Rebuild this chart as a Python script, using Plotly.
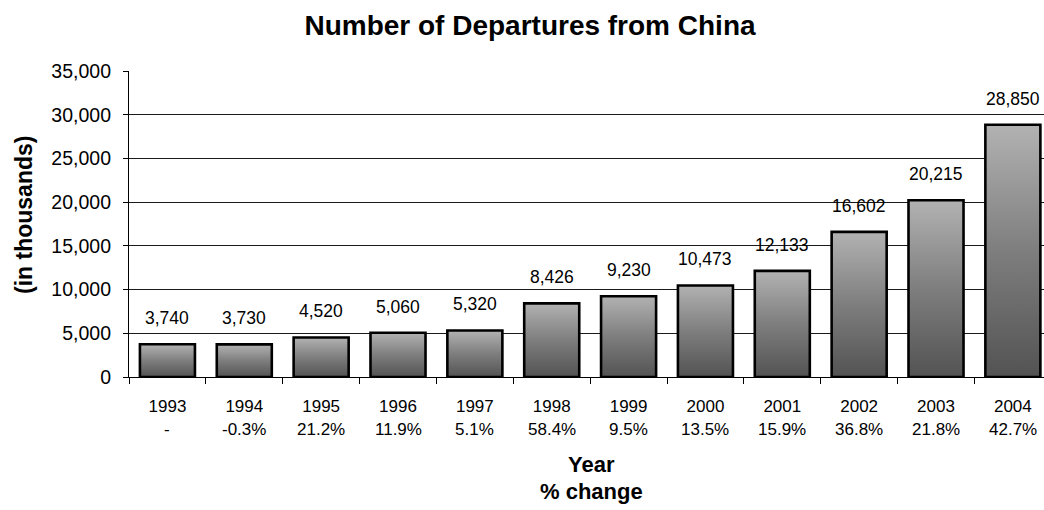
import plotly.graph_objects as go

# Outbound departures from China, thousands
years = ["1993", "1994", "1995", "1996", "1997", "1998",
         "1999", "2000", "2001", "2002", "2003", "2004"]
departures = [3740, 3730, 4520, 5060, 5320, 8426,
              9230, 10473, 12133, 16602, 20215, 28850]
pct_change = ["-", "-0.3%", "21.2%", "11.9%", "5.1%", "58.4%",
              "9.5%", "13.5%", "15.9%", "36.8%", "21.8%", "42.7%"]

FONT = "Liberation Sans, Arial, sans-serif"
BAR_HALF = 0.358

# plot-area geometry in pixels (used to place titles outside the axes)
L, R, T, B = 129, 1044, 71, 377


def px_x(p):
    return (p - L) / (R - L)


def px_y(p):
    return (B - p) / (B - T)


fig = go.Figure()

# Each column: a closed outline filled with a vertical grey gradient
for i, v in enumerate(departures):
    x0, x1 = i - BAR_HALF, i + BAR_HALF
    fig.add_trace(go.Scatter(
        x=[x0, x0, x1, x1, x0],
        y=[0, v, v, 0, 0],
        mode="lines",
        fill="toself",
        fillgradient=dict(type="vertical",
                          colorscale=[[0, "#535353"], [0.5, "#7e7e7e"], [1, "#b2b2b2"]]),
        line=dict(color="#000000", width=2.6),
        hoverinfo="skip",
        showlegend=False,
    ))

# Value labels above columns
for i, v in enumerate(departures):
    fig.add_annotation(x=i, y=v, xref="x", yref="y", text=f"{v:,}",
                       showarrow=False, yanchor="bottom", yshift=14,
                       font=dict(family=FONT, size=17.5, color="#000000"))

# Second row of category labels: percentage change
for i, p in enumerate(pct_change):
    fig.add_annotation(x=i, y=px_y(429), xref="x", yref="paper", text=p,
                       showarrow=False, yanchor="middle",
                       font=dict(family=FONT, size=17, color="#000000"))

# Axis titles
fig.add_annotation(x=px_x(591), y=px_y(465), xref="paper", yref="paper",
                   text="<b>Year</b>", showarrow=False, yanchor="middle",
                   font=dict(family=FONT, size=22, color="#000000"))
fig.add_annotation(x=px_x(591), y=px_y(491), xref="paper", yref="paper",
                   text="<b>% change</b>", showarrow=False, yanchor="middle",
                   font=dict(family=FONT, size=22, color="#000000"))
fig.add_annotation(x=px_x(24), y=px_y(215), xref="paper", yref="paper",
                   text="<b>(in thousands)</b>", showarrow=False, textangle=-90,
                   xanchor="center", yanchor="middle",
                   font=dict(family=FONT, size=23, color="#000000"))

fig.update_layout(
    width=1044, height=510,
    margin=dict(l=L, r=1044 - R, t=T, b=510 - B),
    paper_bgcolor="#ffffff", plot_bgcolor="#ffffff",
    font=dict(family=FONT, color="#000000"),
    title=dict(text="<b>Number of Departures from China</b>",
               x=530 / 1044, xanchor="center", xref="container",
               y=1 - 25 / 510, yanchor="middle", yref="container",
               font=dict(family=FONT, size=28, color="#000000")),
    showlegend=False,
)

fig.update_xaxes(
    range=[-0.5, 11.405],
    tickmode="array", tickvals=list(range(len(years))), ticktext=years,
    ticks="", tickfont=dict(family=FONT, size=17, color="#000000"),
    ticklabelstandoff=13,
    minor=dict(tick0=-0.5, dtick=1, ticks="outside", ticklen=6,
               tickcolor="#000000", tickwidth=1, showgrid=False),
    showline=True, linecolor="#000000", linewidth=1.2,
    showgrid=False, zeroline=False, fixedrange=True,
)

fig.update_yaxes(
    range=[0, 35000], tick0=0, dtick=5000, tickformat=",",
    ticks="outside", ticklen=5, tickcolor="#000000", tickwidth=1,
    ticklabelstandoff=8,
    tickfont=dict(family=FONT, size=19.5, color="#000000"),
    showline=True, linecolor="#000000", linewidth=1.2,
    showgrid=True, gridcolor="#1a1a1a", gridwidth=1,
    zeroline=False, fixedrange=True,
)

fig.write_html("out.html")
